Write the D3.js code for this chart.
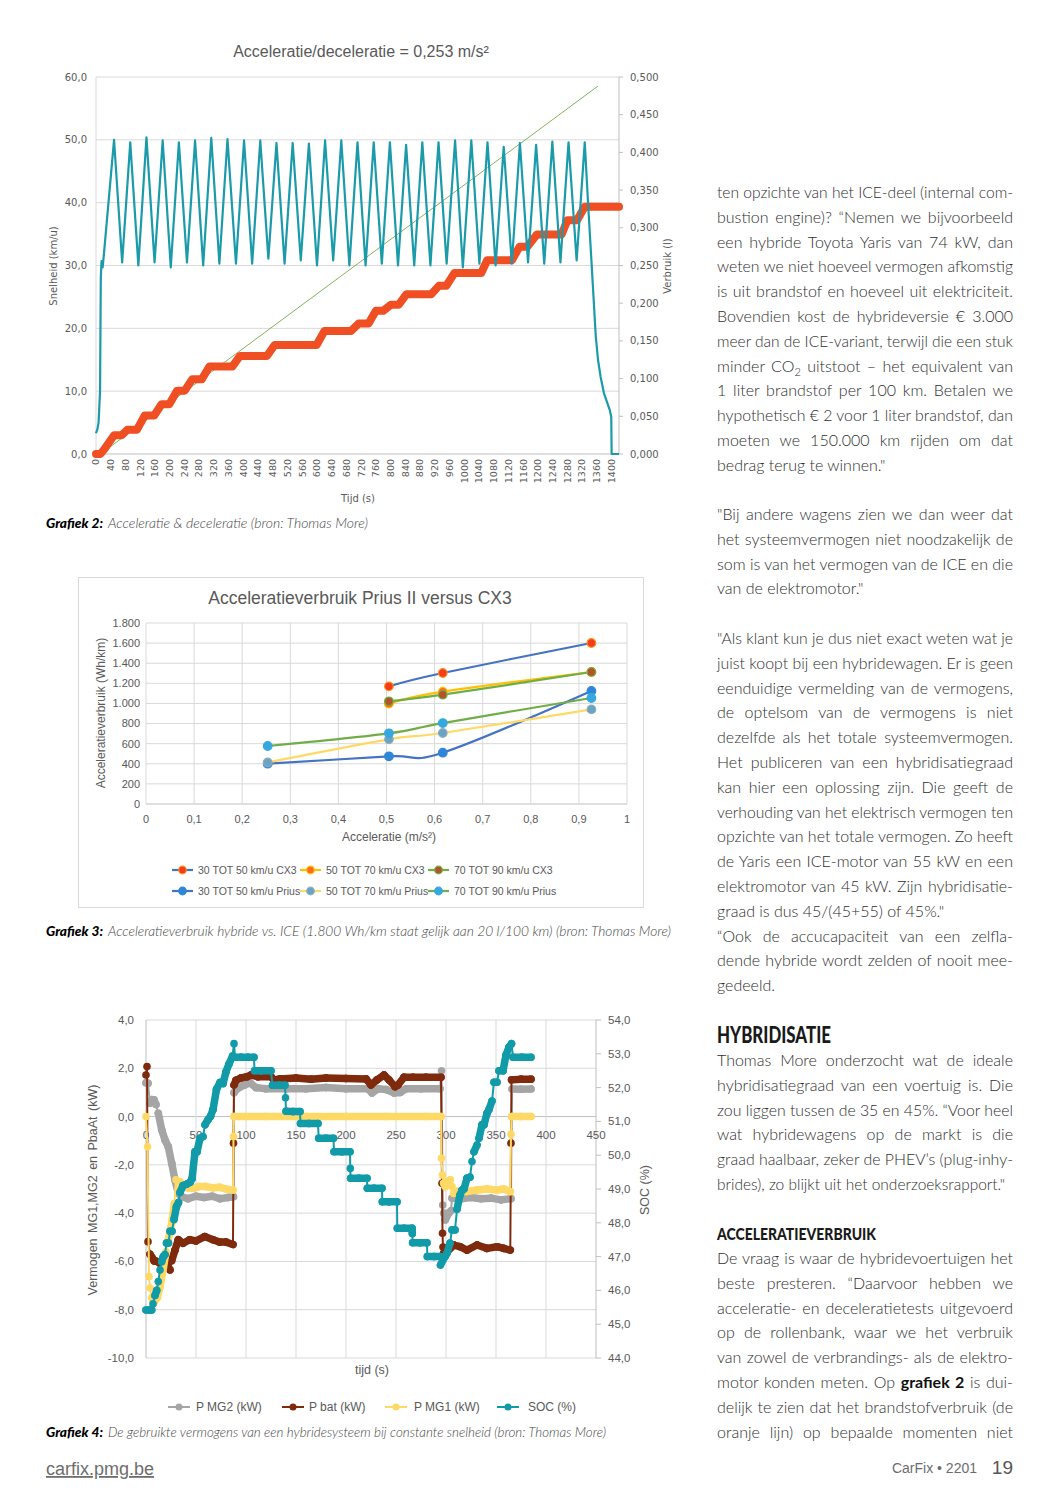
<!DOCTYPE html>
<html>
<head>
<meta charset="utf-8">
<script src="https://cdn.jsdelivr.net/npm/d3@7"></script>
<style>
  body { margin: 0; background: #fff; }
  svg { display: block; }
  .body { font-family: Lato, "Open Sans", sans-serif; font-size: 16px; font-weight: 300; fill: #2e2e2e; }
</style>
</head>
<body>
<svg id="page" width="1058" height="1496"></svg>
<script>
// Number format: Dutch style (comma decimals, dot thousands)
const nl = d3.formatLocale({ decimal: ",", thousands: ".", grouping: [3], currency: ["€", ""], minus: "-" });
const f1 = nl.format(".1f");
const f3 = nl.format(".3f");
const fThousand = nl.format(",");

// ---------- Grafiek 2: speed (km/u) and fuel use (l) over time (s) ----------
const speedData = [
  [0, 3.3], [4, 4.0], [7, 5.0], [11, 10], [13, 28], [15, 30.7], [18, 29.7], [21, 31.5],
  [49, 50.0], [71, 30.5], [93, 49.6], [115, 30.0], [137, 50.4], [159, 30.5], [181, 49.9], [203, 29.7],
  [225, 49.6], [247, 30.5], [269, 49.9], [291, 30.0], [313, 50.3], [335, 30.3], [357, 50.1], [380, 30.3],
  [402, 49.9], [424, 30.3], [446, 49.9], [468, 31.1], [490, 49.5], [512, 30.3], [534, 49.5], [556, 30.8],
  [578, 49.4], [600, 30.0], [622, 49.9], [644, 30.8], [666, 49.9], [688, 30.0], [710, 49.6], [732, 30.0],
  [754, 49.6], [776, 30.3], [798, 49.6], [820, 30.0], [842, 49.2], [864, 30.0], [886, 49.6], [908, 30.0],
  [930, 49.6], [952, 30.3], [975, 49.9], [996, 29.7], [1019, 49.9], [1041, 30.3], [1063, 49.6], [1085, 30.0],
  [1107, 48.9], [1129, 30.3], [1151, 49.5], [1173, 30.5], [1195, 49.2], [1217, 30.3], [1239, 49.7], [1261, 30.5],
  [1283, 49.6], [1305, 30.8], [1327, 49.6],
  [1336, 39.9], [1345, 30.9], [1357, 18.7], [1363, 15.0], [1370, 12.3], [1379, 9.7], [1395, 7.0], [1399, 5.9],
  [1400, 0], [1420, 0]
];
const fuelData = [
  [0, 0], [12, 0], [23, 0.0066], [49, 0.025], [70, 0.025], [85, 0.032], [111, 0.032], [132, 0.051],
  [158, 0.051], [178, 0.066], [199, 0.066], [220, 0.084], [241, 0.084], [261, 0.099], [287, 0.099],
  [308, 0.116], [370, 0.116], [391, 0.130], [464, 0.130], [485, 0.1445], [599, 0.1445], [620, 0.163],
  [692, 0.163], [713, 0.173], [740, 0.173], [760, 0.190], [780, 0.190], [801, 0.198], [822, 0.198],
  [843, 0.212], [910, 0.212], [931, 0.223], [951, 0.223], [973, 0.240], [1046, 0.240], [1062, 0.257],
  [1129, 0.257], [1150, 0.275], [1171, 0.275], [1197, 0.291], [1264, 0.291], [1280, 0.310], [1306, 0.310],
  [1327, 0.328], [1420, 0.328]
];
const trendData = [[12, 0], [1363, 0.488]];
const speedTicks = [0, 10, 20, 30, 40, 50, 60];
const fuelTicks = [0, 0.05, 0.1, 0.15, 0.2, 0.25, 0.3, 0.35, 0.4, 0.45, 0.5];
const timeTicks = d3.range(0, 1401, 40);

// ---------- Grafiek 3: acceleration consumption ----------
const accSeries = [
  { name: "30 TOT 50 km/u CX3",   line: "#4472c4", fill: "#f23c1d", ring: "#ff8c1a",
    values: [[0.505, 1170], [0.617, 1303], [0.926, 1601]] },
  { name: "50 TOT 70 km/u CX3",   line: "#ffc000", fill: "#ff6a1a", ring: "#ffc000",
    values: [[0.505, 998], [0.617, 1117], [0.926, 1313]] },
  { name: "70 TOT 90 km/u CX3",   line: "#70ad47", fill: "#b4532a", ring: "#70ad47",
    values: [[0.505, 1021], [0.617, 1087], [0.926, 1313]] },
  { name: "30 TOT 50 km/u Prius", line: "#4472c4", fill: "#2f86d8", ring: "#2f86d8",
    values: [[0.253, 401], [0.505, 474], [0.617, 510], [0.926, 1124]] },
  { name: "50 TOT 70 km/u Prius", line: "#ffd966", fill: "#6aa3c4", ring: "#8fb0b8",
    values: [[0.253, 414], [0.505, 643], [0.617, 706], [0.926, 941]] },
  { name: "70 TOT 90 km/u Prius", line: "#70ad47", fill: "#35a8e0", ring: "#35a8e0",
    values: [[0.253, 577], [0.505, 703], [0.617, 805], [0.926, 1054]] }
];
const accTicks = [0, 0.1, 0.2, 0.3, 0.4, 0.5, 0.6, 0.7, 0.8, 0.9, 1];
const accLabels = ["0", "0,1", "0,2", "0,3", "0,4", "0,5", "0,6", "0,7", "0,8", "0,9", "1"];
const whTicks = [0, 200, 400, 600, 800, 1000, 1200, 1400, 1600, 1800];

// ---------- Grafiek 4: power and SOC at constant speed ----------
const pMG2 = [
  [0, 1.4], [2, 1.38], [4, 0.55], [6, 0.7], [8, 0.69], [10, 0.5], [12.3, 0.14], [15.7, -0.55], [19, -0.97],
  [22.3, -1.25], [25.7, -1.93], [29, -2.63], [32.3, -3.18], [35.7, -3.32], [42, -3.4], [50, -3.3],
  [58, -3.35], [66, -3.3], [74, -3.4], [82, -3.35], [87.5, -3.32], [88, 0.99], [91, 1.15], [98, 1.3],
  [104, 1.4], [110, 1.2], [120, 1.15], [140, 1.15], [160, 1.15], [180, 1.2], [200, 1.15], [222, 1.15],
  [226, 0.98], [232, 1.15], [240, 1.12], [248, 0.98], [254, 1.0], [260, 1.15], [275, 1.15], [294, 1.15],
  [295.5, 1.9], [296.7, -3.66], [297.7, -4.0], [299.3, -4.28], [302.7, -4.0], [305, -3.9], [306, -3.38],
  [315, -3.4], [325, -3.35], [335, -3.4], [345, -3.38], [355, -3.45], [365, -3.4], [366, 1.14],
  [375, 1.13], [385, 1.14]
];
const pBat = [
  [0, 1.72], [1, 2.07], [2, -5.18], [4, -5.7], [6, -5.84], [8.3, -5.98], [11, -6.0], [14, -6.08],
  [18, -6.0], [22, -6.2], [24, -6.35], [25.7, -5.97], [29, -5.53], [32.3, -5.1], [37, -5.25],
  [43.7, -5.1], [50, -5.15], [58.7, -4.97], [67, -5.1], [73.7, -5.2], [80, -5.2], [87, -5.3],
  [87.5, -1.1], [88, 1.31], [90, 1.5], [95, 1.6], [101, 1.65], [105, 1.72], [112, 1.65], [125, 1.65],
  [128, 1.52], [134, 1.56], [150, 1.6], [165, 1.55], [180, 1.6], [200, 1.58], [220, 1.56], [225, 1.31],
  [231, 1.52], [238, 1.72], [243, 1.52], [249, 1.24], [252, 1.31], [258, 1.63], [267, 1.63],
  [280, 1.63], [295, 1.63], [296, -2.76], [296.5, -4.83], [297, -5.4], [297.7, -5.66], [301, -5.6],
  [307.7, -5.32], [314, -5.39], [321, -5.53], [331, -5.32], [341, -5.46], [351, -5.39], [357.7, -5.46],
  [364.3, -5.53], [365, -1.1], [365.5, 1.52], [375, 1.55], [385, 1.55]
];
const pMG1 = [
  [0, 0], [1.5, -1.25], [3, -6.63], [4, -7.1], [5.7, -7.5], [8, -7.7], [11.3, -7.5], [14, -7.05],
  [17.3, -6.3], [20, -5.6], [22.3, -5.1], [25.7, -4.4], [28.4, -3.6], [30, -2.62], [32.3, -3.0],
  [34, -2.7], [37, -2.9], [42, -2.95], [47, -2.97], [53, -2.9], [60, -2.9], [67, -2.95], [73.7, -2.93],
  [80, -3.0], [87, -3.04], [87.5, -0.83], [88, 0], [120, 0], [160, 0], [200, 0], [240, 0], [280, 0],
  [295, 0], [295.5, -1.73], [296.5, -2.42], [297.7, -2.76], [299.3, -2.9], [301, -2.7], [304.3, -2.62],
  [306, -2.9], [307.7, -3.18], [311, -3.1], [321, -3.1], [331, -3.04], [341, -3.0], [351, -3.04],
  [358, -3.0], [364.3, -3.11], [365, -0.73], [365.5, 0], [375, 0], [385, 0]
];
const socData = [
  [0, 45.42], [4, 45.42], [5.7, 45.42], [7, 45.6], [9, 45.85], [10.7, 46.0], [12.3, 46.26], [14, 46.6],
  [15.7, 46.85], [17.3, 47.0], [19, 47.06], [20.5, 47.4], [22.5, 47.4], [24, 47.75], [26, 47.75],
  [28, 48.1], [30.5, 48.48], [32.5, 48.6], [34, 48.9], [37, 49.1], [41, 49.15], [44, 49.2], [46, 49.3],
  [49, 50.1], [51, 50.1], [54, 50.5], [57, 50.55], [59, 50.9], [62, 51.05], [64.5, 51.15], [67, 51.35],
  [70.5, 51.95], [74, 52.15], [77, 52.12], [80, 52.47], [83, 52.7], [86.5, 52.93], [88, 53.3],
  [89, 52.9], [95, 52.9], [102, 52.9], [108, 52.9], [108.5, 52.5], [115, 52.5], [125, 52.5],
  [126.5, 52.07], [133, 52.07], [139, 52.07], [139.5, 51.7], [140, 51.3], [147, 51.29], [154, 51.29],
  [154.5, 50.94], [163, 50.94], [172, 50.94], [172.7, 50.5], [180, 50.5], [187.5, 50.5], [188, 50.1],
  [196, 50.1], [204, 50.1], [204.3, 49.61], [204.6, 49.32], [213, 49.32], [221, 49.32], [221.3, 49.02],
  [228, 49.02], [236, 49.02], [236.3, 48.62], [243, 48.62], [251, 48.62], [251.3, 47.84], [258, 47.84],
  [266, 47.84], [266.3, 47.68], [266.6, 47.41], [274, 47.41], [281, 47.41], [281.3, 47.0], [288, 47.0],
  [294, 47.0], [294.5, 46.75], [299, 47.0], [301, 47.1], [304, 47.4], [306, 47.79], [309, 47.79],
  [311, 48.4], [314, 48.82], [316, 48.97], [318, 49.0], [321, 49.32], [324, 49.35], [326, 49.81],
  [328, 50.1], [331, 50.3], [333, 50.5], [336, 50.9], [338, 50.9], [341, 51.24], [343, 51.35],
  [346, 51.6], [348, 52.16], [351, 52.16], [353, 52.5], [357, 52.5], [360, 52.96], [363, 53.2],
  [365.5, 53.3], [367, 52.9], [376, 52.9], [385, 52.9]
];
const powerSeries = [
  { name: "P MG2 (kW)", color: "#a5a5a5", axis: "L", values: pMG2 },
  { name: "P bat (kW)", color: "#7f2a0c", axis: "L", values: pBat },
  { name: "P MG1 (kW)", color: "#ffd966", axis: "L", values: pMG1 },
  { name: "SOC (%)",    color: "#119ba8", axis: "R", values: socData }
];
const kwTicks = [-10, -8, -6, -4, -2, 0, 2, 4];
const socTicks = [44, 45, 46, 47, 48, 49, 50, 51, 52, 53, 54];
const secTicks = [0, 50, 100, 150, 200, 250, 300, 350, 400, 450];

const svg = d3.select("#page");
const GRID = "#d9d9d9", AXIS = "#bfbfbf", LABEL = "#595959";
const ARIAL = "'Liberation Sans', Arial, sans-serif";
const DEJAVU = "'DejaVu Sans', Verdana, sans-serif";

// =================== Grafiek 2 ===================
{
  const m = { left: 96, right: 619, top: 77, bottom: 454 };
  const g = svg.append("g");
  const x = d3.scaleLinear().domain([0, 1420]).range([m.left, m.right]);
  const yL = d3.scaleLinear().domain([0, 60]).range([m.bottom, m.top]);
  const yR = d3.scaleLinear().domain([0, 0.5]).range([m.bottom, m.top]);

  g.append("text").attr("x", 361).attr("y", 57).attr("text-anchor", "middle")
    .style("font-family", ARIAL).style("font-size", "16px").style("fill", LABEL)
    .text("Acceleratie/deceleratie = 0,253 m/s²");

  g.selectAll(".grid").data(speedTicks.slice(1)).join("line")
    .attr("x1", m.left).attr("x2", m.right).attr("y1", d => yL(d)).attr("y2", d => yL(d))
    .attr("stroke", GRID).attr("stroke-width", 1);
  g.append("line").attr("x1", m.left).attr("x2", m.left).attr("y1", m.top).attr("y2", m.bottom).attr("stroke", GRID);
  g.append("line").attr("x1", m.right).attr("x2", m.right).attr("y1", m.top).attr("y2", m.bottom).attr("stroke", AXIS);
  g.append("line").attr("x1", m.left).attr("x2", m.right).attr("y1", m.bottom).attr("y2", m.bottom).attr("stroke", AXIS);

  g.selectAll(".yl").data(speedTicks).join("text")
    .attr("x", 87).attr("y", d => yL(d)).attr("dy", "0.35em").attr("text-anchor", "end")
    .style("font-family", DEJAVU).style("font-size", "10px").style("fill", LABEL).text(f1);
  g.selectAll(".rt").data(fuelTicks).join("line")
    .attr("x1", m.right).attr("x2", m.right + 4).attr("y1", d => yR(d)).attr("y2", d => yR(d)).attr("stroke", AXIS);
  g.selectAll(".yr").data(fuelTicks).join("text")
    .attr("x", 630).attr("y", d => yR(d)).attr("dy", "0.35em")
    .style("font-family", DEJAVU).style("font-size", "10px").style("fill", LABEL).text(f3);
  g.selectAll(".xl").data(timeTicks).join("text")
    .attr("transform", d => `translate(${x(d)},459) rotate(-90)`)
    .attr("dy", "0.35em").attr("text-anchor", "end")
    .style("font-family", DEJAVU).style("font-size", "9.5px").style("fill", LABEL).text(d => d);

  g.append("text").attr("transform", "translate(57,266) rotate(-90)").attr("text-anchor", "middle")
    .style("font-family", DEJAVU).style("font-size", "10px").style("fill", LABEL).text("Snelheid  (km/u)");
  g.append("text").attr("transform", "translate(671,266) rotate(-90)").attr("text-anchor", "middle")
    .style("font-family", DEJAVU).style("font-size", "10px").style("fill", LABEL).text("Verbruik (l)");
  g.append("text").attr("x", 358).attr("y", 502).attr("text-anchor", "middle")
    .style("font-family", DEJAVU).style("font-size", "10px").style("fill", LABEL).text("Tijd (s)");

  g.append("path").datum(trendData)
    .attr("d", d3.line().x(d => x(d[0])).y(d => yR(d[1])))
    .attr("fill", "none").attr("stroke", "#70ad47").attr("stroke-width", 0.9);
  g.append("path").datum(fuelData)
    .attr("d", d3.line().x(d => x(d[0])).y(d => yR(d[1])))
    .attr("fill", "none").attr("stroke", "#f04e23").attr("stroke-width", 8)
    .attr("stroke-linejoin", "round").attr("stroke-linecap", "round");
  g.append("path").datum(speedData)
    .attr("d", d3.line().x(d => x(d[0])).y(d => yL(d[1])))
    .attr("fill", "none").attr("stroke", "#1b9aaa").attr("stroke-width", 2.2).attr("stroke-linejoin", "round");
}

// =================== Grafiek 3 ===================
{
  const m = { left: 146, right: 627, top: 623, bottom: 804 };
  const g = svg.append("g");
  g.append("rect").attr("x", 78.5).attr("y", 577.5).attr("width", 565).attr("height", 330)
    .attr("fill", "none").attr("stroke", GRID);
  const x = d3.scaleLinear().domain([0, 1]).range([m.left, m.right]);
  const y = d3.scaleLinear().domain([0, 1800]).range([m.bottom, m.top]);

  g.append("text").attr("x", 360).attr("y", 604).attr("text-anchor", "middle")
    .style("font-family", ARIAL).style("font-size", "17.5px").style("fill", LABEL)
    .text("Acceleratieverbruik Prius II versus CX3");

  g.selectAll(".hg").data(whTicks).join("line")
    .attr("x1", m.left).attr("x2", m.right).attr("y1", d => y(d)).attr("y2", d => y(d))
    .attr("stroke", d => d === 0 ? AXIS : GRID);
  g.selectAll(".vg").data(accTicks).join("line")
    .attr("x1", d => x(d)).attr("x2", d => x(d)).attr("y1", m.top).attr("y2", m.bottom).attr("stroke", GRID);

  g.selectAll(".yl").data(whTicks).join("text")
    .attr("x", 140).attr("y", d => y(d)).attr("dy", "0.35em").attr("text-anchor", "end")
    .style("font-family", ARIAL).style("font-size", "11px").style("fill", LABEL).text(fThousand);
  g.selectAll(".xl").data(accTicks).join("text")
    .attr("x", d => x(d)).attr("y", 823).attr("text-anchor", "middle")
    .style("font-family", ARIAL).style("font-size", "11px").style("fill", LABEL).text((d, i) => accLabels[i]);

  g.append("text").attr("x", 389).attr("y", 841).attr("text-anchor", "middle")
    .style("font-family", ARIAL).style("font-size", "12px").style("fill", LABEL).text("Acceleratie (m/s²)");
  g.append("text").attr("transform", "translate(105,713) rotate(-90)").attr("text-anchor", "middle")
    .style("font-family", ARIAL).style("font-size", "12px").style("fill", LABEL).text("Acceleratieverbruik (Wh/km)");

  const line = d3.line().x(d => x(d[0])).y(d => y(d[1])).curve(d3.curveCardinal.tension(0));
  accSeries.forEach(s => {
    g.append("path").datum(s.values).attr("d", line)
      .attr("fill", "none").attr("stroke", s.line).attr("stroke-width", 2.2);
  });
  accSeries.forEach(s => {
    g.selectAll(null).data(s.values).join("circle")
      .attr("cx", d => x(d[0])).attr("cy", d => y(d[1])).attr("r", 4.3)
      .attr("fill", s.fill).attr("stroke", s.ring).attr("stroke-width", 1.2);
  });

  // legend: 3 columns x 2 rows
  const colX = [172, 300, 428], rowY = [870, 891];
  accSeries.forEach((s, i) => {
    const lx = colX[i % 3], ly = rowY[Math.floor(i / 3)];
    g.append("line").attr("x1", lx).attr("x2", lx + 21).attr("y1", ly).attr("y2", ly)
      .attr("stroke", s.line).attr("stroke-width", 2.2);
    g.append("circle").attr("cx", lx + 10.5).attr("cy", ly).attr("r", 3.8)
      .attr("fill", s.fill).attr("stroke", s.ring).attr("stroke-width", 1.2);
    g.append("text").attr("x", lx + 26).attr("y", ly).attr("dy", "0.35em")
      .style("font-family", ARIAL).style("font-size", "10.5px").style("fill", LABEL).text(s.name);
  });
}

// =================== Grafiek 4 ===================
{
  const m = { left: 146, right: 596, top: 1020, bottom: 1358 };
  const g = svg.append("g");
  const x = d3.scaleLinear().domain([0, 450]).range([m.left, m.right]);
  const yL = d3.scaleLinear().domain([-10, 4]).range([m.bottom, m.top]);
  const yR = d3.scaleLinear().domain([44, 54]).range([m.bottom, m.top]);

  g.selectAll(".hg").data(kwTicks).join("line")
    .attr("x1", m.left).attr("x2", m.right).attr("y1", d => yL(d)).attr("y2", d => yL(d))
    .attr("stroke", d => d === 0 ? AXIS : GRID);
  g.selectAll(".vg").data(secTicks).join("line")
    .attr("x1", d => x(d)).attr("x2", d => x(d)).attr("y1", m.top).attr("y2", m.bottom)
    .attr("stroke", d => (d === 0 || d === 450) ? AXIS : GRID);
  g.selectAll(".rt").data(socTicks).join("line")
    .attr("x1", m.right).attr("x2", m.right + 5).attr("y1", d => yR(d)).attr("y2", d => yR(d)).attr("stroke", AXIS);

  g.selectAll(".yl").data(kwTicks).join("text")
    .attr("x", 134).attr("y", d => yL(d)).attr("dy", "0.35em").attr("text-anchor", "end")
    .style("font-family", ARIAL).style("font-size", "11.5px").style("fill", LABEL).text(f1);
  g.selectAll(".yr").data(socTicks).join("text")
    .attr("x", 608).attr("y", d => yR(d)).attr("dy", "0.35em")
    .style("font-family", ARIAL).style("font-size", "11.5px").style("fill", LABEL).text(f1);
  g.selectAll(".xl").data(secTicks).join("text")
    .attr("x", d => x(d)).attr("y", yL(0) + 22).attr("text-anchor", "middle")
    .style("font-family", ARIAL).style("font-size", "11.5px").style("fill", LABEL).text(d => d);

  g.append("text").attr("transform", "translate(97,1190) rotate(-90)").attr("text-anchor", "middle")
    .style("font-family", ARIAL).style("font-size", "12.5px").style("fill", LABEL)
    .style("word-spacing", "2px").text("Vermogen MG1,MG2 en PbaAt (kW)");
  g.append("text").attr("transform", "translate(649,1190) rotate(-90)").attr("text-anchor", "middle")
    .style("font-family", ARIAL).style("font-size", "12.5px").style("fill", LABEL).text("SOC (%)");
  g.append("text").attr("x", 372).attr("y", 1374).attr("text-anchor", "middle")
    .style("font-family", ARIAL).style("font-size", "12.5px").style("fill", LABEL).text("tijd (s)");

  // dense sample runs look like a beaded thick line, sparse jumps stay thin
  powerSeries.forEach(s => {
    const y = s.axis === "L" ? yL : yR;
    const pts = s.values.map(d => [x(d[0]), y(d[1])]);
    g.append("path").attr("d", d3.line()(pts)).attr("fill", "none")
      .attr("stroke", s.color).attr("stroke-width", 2);
    const runs = [];
    for (let i = 1; i < pts.length; i++) {
      const dx = Math.abs(pts[i][0] - pts[i - 1][0]), dy = Math.abs(pts[i][1] - pts[i - 1][1]);
      if (dx >= 2.5 || dy < 6) runs.push([pts[i - 1], pts[i]]);
    }
    g.selectAll(null).data(runs).join("line")
      .attr("x1", d => d[0][0]).attr("y1", d => d[0][1]).attr("x2", d => d[1][0]).attr("y2", d => d[1][1])
      .attr("stroke", s.color).attr("stroke-width", 7.5).attr("stroke-linecap", "round");
    g.selectAll(null).data(pts).join("circle")
      .attr("cx", d => d[0]).attr("cy", d => d[1]).attr("r", 3.8).attr("fill", s.color);
  });

  const legX = [168, 282, 385, 497], legTx = [196, 309, 414, 528];
  powerSeries.forEach((s, i) => {
    g.append("line").attr("x1", legX[i]).attr("x2", legX[i] + 22).attr("y1", 1407).attr("y2", 1407)
      .attr("stroke", s.color).attr("stroke-width", 2);
    g.append("circle").attr("cx", legX[i] + 11).attr("cy", 1407).attr("r", 3.5).attr("fill", s.color);
    g.append("text").attr("x", legTx[i]).attr("y", 1407).attr("dy", "0.35em")
      .style("font-family", ARIAL).style("font-size", "12px").style("fill", LABEL).text(s.name);
  });
}

// =================== Captions ===================
const captions = [
  { y: 528, label: "Grafiek 2:", text: "Acceleratie & deceleratie (bron: Thomas More)", end: 368 },
  { y: 936, label: "Grafiek 3:", text: "Acceleratieverbruik hybride vs. ICE (1.800 Wh/km staat gelijk aan 20 l/100 km) (bron: Thomas More)", end: 671 },
  { y: 1437, label: "Grafiek 4:", text: "De gebruikte vermogens van een hybridesysteem bij constante snelheid (bron: Thomas More)", end: 606 }
];
captions.forEach(c => {
  svg.append("text").attr("x", 46).attr("y", c.y)
    .attr("textLength", 57).attr("lengthAdjust", "spacingAndGlyphs")
    .style("font-family", "Lato, sans-serif").style("font-size", "14px").style("font-weight", 900)
    .style("font-style", "italic").style("fill", "#000").text(c.label);
  svg.append("text").attr("x", 108).attr("y", c.y)
    .attr("textLength", c.end - 108).attr("lengthAdjust", "spacingAndGlyphs")
    .style("font-family", "Lato, sans-serif").style("font-size", "13.5px").style("font-weight", 300)
    .style("font-style", "italic").style("fill", "#444").text(c.text);
});

// =================== Right column text ===================
const colLeft = 717, colWidth = 296, lineH = 24.8;
const blocks = [
  { y: 193, lines: [
    "ten opzichte van het ICE-deel (internal com-",
    "bustion engine)? “Nemen we bijvoorbeeld",
    "een hybride Toyota Yaris van 74 kW, dan",
    "weten we niet hoeveel vermogen afkomstig",
    "is uit brandstof en hoeveel uit elektriciteit.",
    "Bovendien kost de hybrideversie € 3.000",
    "meer dan de ICE-variant, terwijl die een stuk",
    [{ t: "minder CO" }, { t: "2", sub: true }, { t: " uitstoot – het equivalent van" }],
    "1 liter brandstof per 100 km. Betalen we",
    "hypothetisch € 2 voor 1 liter brandstof, dan",
    "moeten we 150.000 km rijden om dat",
    "bedrag terug te winnen.\""
  ] },
  { y: 515, lines: [
    "\"Bij andere wagens zien we dan weer dat",
    "het systeemvermogen niet noodzakelijk de",
    "som is van het vermogen van de ICE en die",
    "van de elektromotor.\""
  ] },
  { y: 639, lines: [
    "\"Als klant kun je dus niet exact weten wat je",
    "juist koopt bij een hybridewagen. Er is geen",
    "eenduidige vermelding van de vermogens,",
    "de optelsom van de vermogens is niet",
    "dezelfde als het totale systeemvermogen.",
    "Het publiceren van een hybridisatiegraad",
    "kan hier een oplossing zijn. Die geeft de",
    "verhouding van het elektrisch vermogen ten",
    "opzichte van het totale vermogen. Zo heeft",
    "de Yaris een ICE-motor van 55 kW en een",
    "elektromotor van 45 kW. Zijn hybridisatie-",
    "graad is dus 45/(45+55) of 45%.\""
  ] },
  { y: 936.6, lines: [
    "“Ook de accucapaciteit van een zelfla-",
    "dende hybride wordt zelden of nooit mee-",
    "gedeeld."
  ] },
  { y: 1061, lines: [
    "Thomas More onderzocht wat de ideale",
    "hybridisatiegraad van een voertuig is. Die",
    "zou liggen tussen de 35 en 45%. “Voor heel",
    "wat hybridewagens op de markt is die",
    "graad haalbaar, zeker de PHEV’s (plug-inhy-",
    "brides), zo blijkt uit het onderzoeksrapport.\""
  ] },
  { y: 1259, justifyLast: true, lines: [
    "De vraag is waar de hybridevoertuigen het",
    "beste presteren. “Daarvoor hebben we",
    "acceleratie- en deceleratietests uitgevoerd",
    "op de rollenbank, waar we het verbruik",
    "van zowel de verbrandings- als de elektro-",
    [{ t: "motor konden meten. Op " }, { t: "grafiek 2", b: true }, { t: " is dui-" }],
    "delijk te zien dat het brandstofverbruik (de",
    "oranje lijn) op bepaalde momenten niet"
  ] }
];

function drawLine(y, line, justify) {
  const segs = typeof line === "string" ? [{ t: line }] : line;
  const t = svg.append("text").attr("class", "body").attr("x", colLeft).attr("y", y + 5);
  let shifted = false;
  segs.forEach(s => {
    const ts = t.append("tspan").text(s.t);
    if (s.sub) { ts.attr("dy", 4).style("font-size", "11px"); shifted = true; }
    else if (shifted) { ts.attr("dy", -4); shifted = false; }
    if (s.b) ts.style("font-weight", 700).style("fill", "#111");
  });
  const natural = t.node().getComputedTextLength();
  if (!justify) {
    // a closing line never runs past the column edge
    if (natural > colWidth - 8) t.attr("textLength", colWidth - 8).attr("lengthAdjust", "spacingAndGlyphs");
    return;
  }
  const spaces = segs.map(s => s.t).join("").split(" ").length - 1;
  const extra = colWidth - natural;
  if (extra >= 0 && spaces > 0) t.style("word-spacing", (extra / spaces) + "px");
  else t.attr("textLength", colWidth).attr("lengthAdjust", "spacingAndGlyphs");
}

blocks.forEach(b => {
  b.lines.forEach((ln, i) => {
    const last = i === b.lines.length - 1;
    drawLine(b.y + i * lineH, ln, !last || b.justifyLast);
  });
});

// Headings
svg.append("text").attr("x", colLeft).attr("y", 1043)
  .attr("textLength", 114).attr("lengthAdjust", "spacingAndGlyphs")
  .style("font-family", "Lato, sans-serif").style("font-weight", 900).style("font-size", "22px")
  .style("fill", "#1a1a1a").text("HYBRIDISATIE");
svg.append("text").attr("x", colLeft).attr("y", 1240)
  .attr("textLength", 159).attr("lengthAdjust", "spacingAndGlyphs")
  .style("font-family", "Lato, sans-serif").style("font-weight", 900).style("font-size", "17px")
  .style("fill", "#1a1a1a").text("ACCELERATIEVERBRUIK");

// Footer
svg.append("text").attr("x", 46).attr("y", 1475)
  .style("font-family", ARIAL).style("font-size", "18px").style("fill", "#6d6d6d")
  .style("text-decoration", "underline").text("carfix.pmg.be");
svg.append("text").attr("x", 977).attr("y", 1473).attr("text-anchor", "end")
  .style("font-family", ARIAL).style("font-size", "14px").style("fill", "#6d6d6d").text("CarFix • 2201");
svg.append("text").attr("x", 1013).attr("y", 1474).attr("text-anchor", "end")
  .style("font-family", ARIAL).style("font-size", "19px").style("fill", "#555").text("19");
</script>
</body>
</html>
